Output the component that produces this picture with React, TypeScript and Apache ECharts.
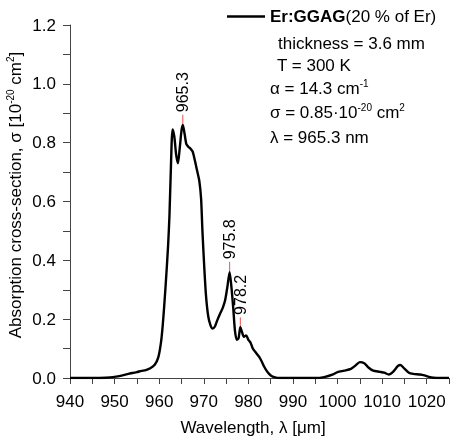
import React, { useEffect, useRef } from "react";
import * as echarts from "echarts";

const wavelengths = [
  940, 945, 948, 950, 952, 954, 955, 956, 957, 958, 959, 959.8, 960.4, 960.8, 961.2, 961.6, 962, 962.3, 962.6,
  963.0, 963.4, 963.8, 964.2, 964.6, 965.0, 965.3, 965.7, 966.1, 966.6, 967.0, 967.5, 968.0, 968.5, 969.0,
  969.4, 969.7, 970.1, 970.5, 971.0, 971.5, 972.0, 972.5, 973.0, 973.7, 974.3, 974.8, 975.3, 975.8, 976.2,
  976.6, 977.0, 977.4, 977.8, 978.2, 978.6, 979.0, 979.5, 980.0, 980.5, 981.0, 981.5, 982.0, 982.5, 983.0,
  983.5, 984.0, 984.6, 985.3, 986, 987, 995, 997, 999, 1000, 1001.5, 1003, 1004, 1005, 1006, 1007, 1008,
  1009.5, 1010.5, 1011.5, 1012.5, 1013.5, 1014.1, 1015, 1016, 1017, 1018.5, 1019.5, 1020.5, 1021.5, 1023, 1025,
];
const crossSection = [
  0, 0, 0.001, 0.004, 0.01, 0.017, 0.02, 0.024, 0.027, 0.033, 0.045, 0.07, 0.12, 0.18, 0.26, 0.35, 0.45, 0.55, 0.7,
  0.845, 0.82, 0.76, 0.73, 0.78, 0.84, 0.86, 0.83, 0.795, 0.785, 0.78, 0.77, 0.74, 0.705, 0.67,
  0.61, 0.5, 0.38, 0.28, 0.21, 0.18, 0.168, 0.175, 0.195, 0.22, 0.24, 0.265, 0.31, 0.36, 0.31,
  0.24, 0.16, 0.13, 0.135, 0.173, 0.155, 0.14, 0.145, 0.13, 0.12, 0.1, 0.09, 0.08, 0.07, 0.056,
  0.04, 0.027, 0.015, 0.006, 0.002, 0, 0, 0.003, 0.012, 0.02, 0.025, 0.031, 0.042, 0.054, 0.05, 0.035, 0.025,
  0.021, 0.018, 0.012, 0.022, 0.04, 0.044, 0.032, 0.018, 0.014, 0.012, 0.009, 0.004, 0.001, 0, 0,
];

const peakLambdas = [965.3, 975.8, 978.2];
const peakValues = [0.86, 0.36, 0.173];
const peakMarkTops = [0.895, 0.395, 0.206];
const peakLabels = ["965.3", "975.8", "978.2"];

const xTicks = [940, 950, 960, 970, 980, 990, 1000, 1010, 1020];
const yTickLabels = ["0.0", "0.2", "0.4", "0.6", "0.8", "1.0", "1.2"];

const FONT = "'Liberation Sans', Arial, Helvetica, sans-serif";
const sup = { fontSize: 10, verticalAlign: "top" as const, lineHeight: 20, fontFamily: FONT, fill: "#000" };
const base = { fontSize: 17, lineHeight: 20, fontFamily: FONT, fill: "#000" };

export default function App() {
  const ref = useRef<HTMLDivElement>(null);
  useEffect(() => {
    if (!ref.current) return;
    const chart = echarts.init(ref.current, undefined, { renderer: "svg" });
    const curve = wavelengths.map((w, i) => [w, crossSection[i]]);
    const markSeries: any[] = peakLambdas.map((w, i) => ({
      type: "line",
      data: [
        [w, peakValues[i]],
        [w, peakMarkTops[i]],
      ],
      symbol: "none",
      lineStyle: { color: "#f05050", width: 1 },
      silent: true,
      z: 1,
    }));
    const labelSeries = {
      type: "scatter",
      data: peakLambdas.map((w, i) => [w, peakMarkTops[i], peakLabels[i]]),
      symbolSize: 1,
      itemStyle: { color: "rgba(0,0,0,0)" },
      label: {
        show: true,
        position: "top",
        distance: 1,
        rotate: 90,
        align: "left",
        verticalAlign: "middle",
        fontSize: 16,
        fontFamily: FONT,
        color: "#000",
        opacity: 1,
        textBorderWidth: 0,
        offset: [1, 0],
        formatter: (p: any) => p.value[2],
      },
      silent: true,
      z: 4,
    };
    const textLines = [
      { x: 278, y: 43, rich: "thickness = 3.6 mm" },
      { x: 277, y: 65, rich: "T = 300 K" },
      { x: 270, y: 88, rich: "α = 14.3 cm{s|-1}" },
      { x: 270, y: 112, rich: "σ = 0.85·10{s|-20} cm{s|2}" },
      { x: 270, y: 137, rich: "λ = 965.3 nm" },
    ];
    chart.setOption({
      animation: false,
      grid: { left: 70, right: 0, top: 25, bottom: 64 },
      legend: {
        left: 222,
        top: 3,
        itemWidth: 38,
        itemHeight: 2.5,
        icon: "rect",
        data: ["Er:GGAG"],
        formatter: () => "{b|Er:GGAG}{n|(20 % of Er)}",
        textStyle: {
          fontSize: 17,
          fontFamily: FONT,
          color: "#000",
          rich: {
            b: { fontSize: 17, fontWeight: "bold", fontFamily: FONT, color: "#000" },
            n: { fontSize: 17, fontFamily: FONT, color: "#000" },
          },
        },
      },
      xAxis: {
        type: "value",
        min: 940,
        max: 1025,
        interval: 5,
        axisLine: { lineStyle: { color: "#444", width: 1 } },
        axisTick: { length: 6, lineStyle: { color: "#444" } },
        splitLine: { show: false },
        axisLabel: {
          margin: 15,
          fontSize: 17,
          fontFamily: FONT,
          color: "#000",
          formatter: (v: number) => (xTicks.includes(Math.round(v * 10) / 10) ? String(v) : ""),
        },
      },
      yAxis: {
        type: "value",
        min: 0,
        max: 1.2,
        interval: 0.1,
        axisLine: { show: true, lineStyle: { color: "#444", width: 1 } },
        axisTick: { show: true, length: 7, lineStyle: { color: "#444" } },
        splitLine: { show: false },
        axisLabel: {
          margin: 14,
          fontSize: 17,
          fontFamily: FONT,
          color: "#000",
          formatter: (v: number) => {
            const k = Math.round(v * 10);
            return k % 2 === 0 ? yTickLabels[k / 2] : "";
          },
        },
      },
      graphic: [
        ...textLines.map((t) => ({
          type: "text",
          x: t.x,
          y: t.y,
          style: {
            text: t.rich,
            ...base,
            verticalAlign: "middle",
            rich: { s: sup },
          },
        })),
        {
          type: "text",
          x: 253,
          y: 427,
          style: {
            text: "Wavelength, λ [μm]",
            ...base,
            align: "center",
            verticalAlign: "middle",
          },
        },
        {
          type: "text",
          x: 15,
          y: 195,
          rotation: Math.PI / 2,
          style: {
            text: "Absorption cross-section, σ [10{s|-20} cm{s|2}]",
            ...base,
            align: "center",
            verticalAlign: "middle",
            rich: { s: sup },
          },
        },
      ],
      series: [
        {
          name: "Er:GGAG",
          type: "line",
          data: curve,
          symbol: "none",
          smooth: 0.25,
          lineStyle: { color: "#000", width: 2.4 },
          itemStyle: { color: "#000" },
          z: 3,
        },
        ...markSeries,
        labelSeries,
      ],
    });
    return () => chart.dispose();
  }, []);
  return <div ref={ref} style={{ position: "fixed", left: 0, top: 0, width: 452, height: 442 }} />;
}
